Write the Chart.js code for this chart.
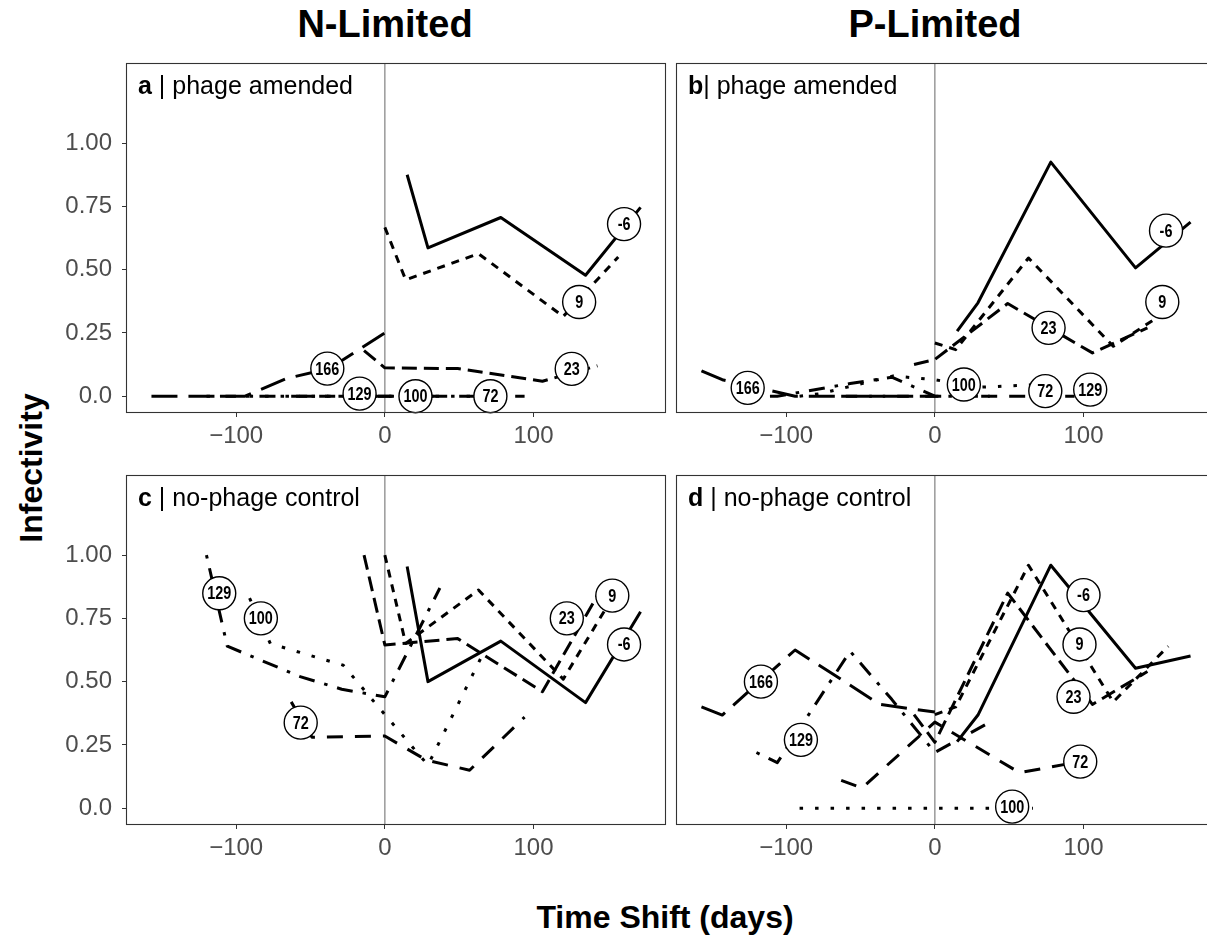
<!DOCTYPE html>
<html>
<head>
<meta charset="utf-8">
<script src="https://cdn.jsdelivr.net/npm/chart.js@4.4.1/dist/chart.umd.min.js"></script>
<style>
  html, body { margin: 0; padding: 0; background: #fff; overflow: hidden; }
  body { width: 1207px; height: 943px; position: relative; font-family: "Liberation Sans", Arial, sans-serif; }
  .panel { position: absolute; }
  .title { position: absolute; font-weight: bold; color: #000; white-space: nowrap; transform: translate(-50%, -50%); }
</style>
</head>
<body>
<div class="title" style="left:385px; top:24px; font-size:38px">N-Limited</div>
<div class="title" style="left:935px; top:24px; font-size:38px">P-Limited</div>
<div class="title" style="left:31px; top:468px; font-size:32px; transform: translate(-50%, -50%) rotate(-90deg)">Infectivity</div>
<div class="title" style="left:665px; top:917px; font-size:32px">Time Shift (days)</div>

<div class="panel" style="left:55px; top:62px"><canvas id="panelA" width="612" height="390"></canvas></div>
<div class="panel" style="left:675px; top:62px"><canvas id="panelB" width="542" height="390"></canvas></div>
<div class="panel" style="left:55px; top:474px"><canvas id="panelC" width="612" height="390"></canvas></div>
<div class="panel" style="left:675px; top:474px"><canvas id="panelD" width="542" height="390"></canvas></div>

<script>
// series = phage day; x = time shift (days) for each sample
const seriesNames = ['-6', '9', '23', '72', '100', '129', '166'];
const xNeg6 = [15, 29, 78, 106, 135, 172];
const x9 = [0, 14, 63, 91, 120, 157];
const x23 = [-14, 0, 49, 77, 106, 143];
const x72 = [-63, -49, 0, 28, 57, 94];
const x100 = [-91, -77, -28, 0, 29, 66];
const x129 = [-120, -106, -57, -29, 0, 37];
const x166 = [-157, -143, -94, -66, -37, 0];
const seriesX = [xNeg6, x9, x23, x72, x100, x129, x166];

// a | N-limited, phage amended
const aNeg6 = [0.875, 0.586, 0.706, null, 0.478, 0.746];
const a9 = [0.667, 0.46, 0.563, null, 0.315, 0.55];
const a23 = [0.18, 0.112, 0.109, 0.085, 0.059, 0.12];
const a72 = [0, 0, 0, 0, 0, 0];
const a100 = [0, 0, 0, 0, 0, 0];
const a129 = [0, 0, 0, 0, 0, 0];
const a166 = [0, 0, 0, 0.07, 0.11, 0.25];

// b | P-limited, phage amended
const bNeg6 = [0.257, 0.369, 0.925, null, 0.507, 0.688];
const b9 = [0.21, 0.184, 0.546, null, 0.197, 0.34];
const b23 = [0.125, 0.145, 0.366, 0.27, 0.171, 0.27];
const b72 = [0, 0, 0, 0, 0, 0];
const b100 = [0, 0.01, 0.08, 0.065, 0.035, 0.045];
const b129 = [0, 0, 0.05, 0.075, 0, 0];
const b166 = [0.10, 0.065, 0, 0, 0, 0];

// c | N-limited, no-phage control
const cNeg6 = [0.955, 0.5, 0.66, null, 0.417, 0.776];
const c9 = [1.0, 0.651, 0.862, null, 0.51, 0.87];
const c23 = [1.0, 0.645, 0.67, null, 0.46, 0.84];
const c72 = [0.42, 0.28, 0.285, 0.19, 0.15, 0.36];
const c100 = [0.83, 0.65, 0.565, 0.37, 0.17, 0.61];
const c129 = [1.0, 0.64, 0.52, 0.47, 0.44, 0.87];
const c166 = null;

// d | P-limited, no-phage control
const dNeg6 = [0.263, 0.368, 0.96, null, 0.553, 0.601];
const d9 = [0.37, 0.40, 0.96, null, 0.42, 0.64];
const d23 = [0.37, 0.26, 0.85, null, 0.41, 0.54];
const d72 = [0.11, 0.08, 0.34, null, 0.14, 0.18];
const d100 = [0, 0, 0, 0, 0, 0];
const d129 = [0.22, 0.18, 0.62, 0.43, 0.22, 0.34];
const d166 = [0.40, 0.368, 0.625, 0.52, 0.41, 0.38];

// circled series labels (x, y in data units), same order as seriesNames
const lblAx = [160.9, 130.7, 125.7, 71, 20.6, -17, -38.7];
const lblAy = [0.68, 0.372, 0.108, 0.0, 0.0, 0.01, 0.109];
const lblBx = [155.5, 153, 76.5, 74.3, 19.5, 104.5, -125.9];
const lblBy = [0.654, 0.372, 0.27, 0.02, 0.046, 0.026, 0.033];
const lblCx = [160.9, 153, 122.4, -56.6, -83.4, -111.4, null];
const lblCy = [0.647, 0.84, 0.75, 0.338, 0.75, 0.849, null];
const lblDx = [100, 97.3, 93.3, 97.8, 52, -90.1, -117];
const lblDy = [0.842, 0.647, 0.44, 0.184, 0.006, 0.27, 0.5];

const xTicks = [-100, 0, 100];
const xTickLabels = ['\u2212100', '0', '100'];
const yTicks = [0, 0.25, 0.5, 0.75, 1.0];
const yTickLabels = ['0.0', '0.25', '0.50', '0.75', '1.00'];
const xMin = -173.45, xMax = 188.45;
const yMin = -0.0625, yMax = 1.3125;

const dashes = [[], [8, 7], [15, 7], [16, 12], [3.5, 12], [3.5, 10, 16, 10], [26, 11]];
const labelFont = 'bold 18px "Liberation Sans", Arial, sans-serif';

const panelDecor = {
  id: 'panelDecor',
  beforeDatasetsDraw(chart) {
    const { ctx, chartArea: a, scales: { x } } = chart;
    const zx = x.getPixelForValue(0);
    ctx.save();
    ctx.strokeStyle = '#8a8a8a';
    ctx.lineWidth = 1.3;
    ctx.beginPath();
    ctx.moveTo(zx, a.top);
    ctx.lineTo(zx, a.bottom);
    ctx.stroke();
    ctx.restore();
  },
  afterDatasetsDraw(chart, args, opts) {
    const { ctx, chartArea: a, scales: { x, y } } = chart;
    ctx.save();
    // circled labels
    opts.lx.forEach((v, i) => {
      if (v == null) return;
      const px = x.getPixelForValue(v);
      const py = y.getPixelForValue(opts.ly[i]);
      ctx.beginPath();
      ctx.arc(px, py, 16.5, 0, Math.PI * 2);
      ctx.fillStyle = '#fff';
      ctx.fill();
      ctx.lineWidth = 1.4;
      ctx.strokeStyle = '#000';
      ctx.stroke();
      // narrow bold digits
      ctx.save();
      ctx.translate(px, py + 1);
      ctx.scale(0.8, 1);
      ctx.fillStyle = '#000';
      ctx.font = labelFont;
      ctx.textAlign = 'center';
      ctx.textBaseline = 'middle';
      ctx.fillText(seriesNames[i], 0, 0);
      ctx.restore();
    });
    // frame
    ctx.strokeStyle = '#333';
    ctx.lineWidth = 1.1;
    ctx.strokeRect(a.left - 0.5, a.top - 0.5, a.right - a.left + 1, a.bottom - a.top + 1);
    // panel tag
    ctx.fillStyle = '#000';
    ctx.textAlign = 'left';
    ctx.textBaseline = 'middle';
    const tx = a.left + 11, ty = a.top + 23;
    ctx.font = 'bold 25px "Liberation Sans", Arial, sans-serif';
    ctx.fillText(opts.tag, tx, ty);
    const w = ctx.measureText(opts.tag).width;
    ctx.font = '25px "Liberation Sans", Arial, sans-serif';
    ctx.fillText(opts.text, tx + w, ty);
    ctx.restore();
  }
};

function buildSets(ys) {
  return ys.map((yv, i) => ({
    label: seriesNames[i],
    data: yv ? seriesX[i].map((xv, j) => ({ x: xv, y: yv[j] })) : [],
    borderColor: '#000',
    borderWidth: 3,
    borderDash: dashes[i],
    borderCapStyle: 'butt',
    borderJoinStyle: 'round',
    pointRadius: 0,
    spanGaps: true,
    tension: 0,
    fill: false
  }));
}

function makePanel(id, ys, lx, ly, tag, text, showY) {
  new Chart(document.getElementById(id), {
    type: 'line',
    data: { datasets: buildSets(ys) },
    options: {
      responsive: false,
      animation: false,
      events: [],
      layout: { padding: { top: 2, right: 2, left: showY ? 0 : 2, bottom: 0 } },
      plugins: {
        legend: { display: false },
        tooltip: { enabled: false },
        panelDecor: { lx, ly, tag, text }
      },
      scales: {
        x: {
          type: 'linear',
          min: xMin,
          max: xMax,
          afterBuildTicks: s => { s.ticks = xTicks.map(v => ({ value: v })); },
          afterFit: s => { s.height = 40; s.paddingLeft = 0; s.paddingRight = 0; },
          border: { display: false },
          grid: { drawOnChartArea: false, drawTicks: true, tickLength: 5, color: '#333' },
          ticks: {
            padding: 5,
            color: '#4d4d4d',
            font: { size: 24, family: '"Liberation Sans", Arial, sans-serif' },
            callback: v => xTickLabels[xTicks.indexOf(v)]
          }
        },
        y: {
          type: 'linear',
          display: showY,
          min: yMin,
          max: yMax,
          afterBuildTicks: s => { s.ticks = yTicks.map(v => ({ value: v })); },
          afterFit: s => { s.width = showY ? 72 : 0; s.paddingTop = 0; s.paddingBottom = 0; },
          border: { display: false },
          grid: { drawOnChartArea: false, drawTicks: true, tickLength: 5, color: '#333' },
          ticks: {
            padding: 10,
            color: '#4d4d4d',
            font: { size: 24, family: '"Liberation Sans", Arial, sans-serif' },
            callback: v => yTickLabels[yTicks.indexOf(v)]
          }
        }
      }
    },
    plugins: [panelDecor]
  });
}

makePanel('panelA', [aNeg6, a9, a23, a72, a100, a129, a166], lblAx, lblAy, 'a', ' | phage amended', true);
makePanel('panelB', [bNeg6, b9, b23, b72, b100, b129, b166], lblBx, lblBy, 'b', '| phage amended', false);
makePanel('panelC', [cNeg6, c9, c23, c72, c100, c129, c166], lblCx, lblCy, 'c', ' | no-phage control', true);
makePanel('panelD', [dNeg6, d9, d23, d72, d100, d129, d166], lblDx, lblDy, 'd', ' | no-phage control', false);
</script>
</body>
</html>
